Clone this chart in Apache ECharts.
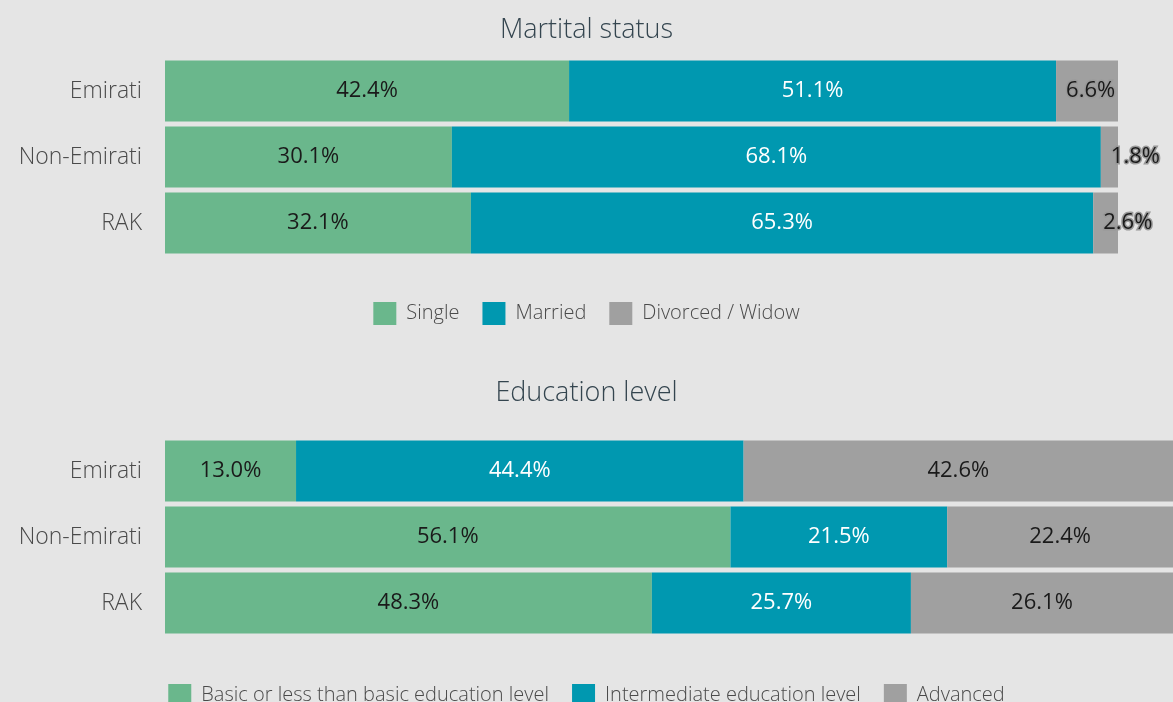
<html>
<head>
<script src="https://cdn.jsdelivr.net/npm/echarts@6/dist/echarts.min.js"></script>
</head>
<body style="margin:0;background:#e5e5e5;">
	<div id="main" style="height:702px;width:1173px;"></div>

	<script type="text/javascript">
		// 数据
		var groups = [ 'Emirati', 'Non-Emirati', 'RAK' ];
		var maritalNames = [ 'Single', 'Married', 'Divorced / Widow' ];
		var single = [ 42.4, 30.1, 32.1 ];
		var married = [ 51.1, 68.1, 65.3 ];
		var divorced = [ 6.6, 1.8, 2.6 ];
		var eduNames = [ 'Basic or less than basic education level',
				'Intermediate education level', 'Advanced' ];
		var basic = [ 13.0, 56.1, 48.3 ];
		var intermediate = [ 44.4, 21.5, 25.7 ];
		var advanced = [ 42.6, 22.4, 26.1 ];

		var colors = [ '#6ab78c', '#0098b0', '#a0a0a0' ];
		var font = '"Open Sans", sans-serif';
		var weight = 300;

		function pct(p) {
			return p.value.toFixed(1) + '%';
		}
		function barSeries(name, data, idx, color, labelColor, extra) {
			var s = {
				name : name,
				type : 'bar',
				stack : 's' + idx,
				xAxisIndex : idx,
				yAxisIndex : idx,
				barCategoryGap : '7.6%',
				itemStyle : {
					color : color
				},
				label : {
					show : true,
					position : 'inside',
					formatter : pct,
					color : labelColor,
					fontSize : 22,
					fontWeight : 400,
					fontFamily : font
				},
				data : data
			};
			if (extra) {
				for ( var k in extra)
					s.label[k] = extra[k];
			}
			return s;
		}
		function yAxis(idx) {
			return {
				type : 'category',
				gridIndex : idx,
				data : groups,
				inverse : true,
				axisLine : {
					show : false
				},
				axisTick : {
					show : false
				},
				axisLabel : {
					margin : 23,
					fontSize : 23,
					fontWeight : weight,
					color : '#4a4a4a',
					fontFamily : font
				}
			};
		}
		function xAxis(idx) {
			return {
				type : 'value',
				gridIndex : idx,
				min : 0,
				max : 100,
				show : false
			};
		}
		var legendText = {
			fontSize : 20,
			fontWeight : weight,
			color : '#4a4a4a',
			fontFamily : font,
			padding : [ 0, 0, 0, 5 ]
		};
		var titleText = {
			fontSize : 27,
			fontWeight : weight,
			color : '#34454f',
			fontFamily : font
		};

		var myChart = echarts.init(document.getElementById('main'));
		var option = {
			backgroundColor : '#e5e5e5',
			animation : false,
			title : [ {
				text : 'Martital status',
				left : 'center',
				top : 12,
				textStyle : titleText
			}, {
				text : 'Education level',
				left : 'center',
				top : 375,
				textStyle : titleText
			} ],
			legend : [ {
				data : maritalNames,
				left : 'center',
				top : 297,
				itemWidth : 23,
				itemHeight : 23,
				itemGap : 23,
				icon : 'rect',
				textStyle : legendText
			}, {
				data : eduNames,
				left : 'center',
				top : 679,
				itemWidth : 23,
				itemHeight : 23,
				itemGap : 23,
				icon : 'rect',
				textStyle : legendText
			} ],
			grid : [ {
				left : 165,
				right : 55,
				top : 58,
				height : 198
			}, {
				left : 165,
				right : 0,
				top : 438,
				height : 198
			} ],
			xAxis : [ xAxis(0), xAxis(1) ],
			yAxis : [ yAxis(0), yAxis(1) ],
			series : [
					barSeries(maritalNames[0], single, 0, colors[0], '#1a1a1a'),
					barSeries(maritalNames[1], married, 0, colors[1], '#fff'),
					barSeries(maritalNames[2], divorced, 0, colors[2], '#1a1a1a', {
						position : 'insideLeft',
						distance : 10,
						textBorderColor : '#999',
						textBorderWidth : 3
					}),
					barSeries(eduNames[0], basic, 1, colors[0], '#1a1a1a'),
					barSeries(eduNames[1], intermediate, 1, colors[1], '#fff'),
					barSeries(eduNames[2], advanced, 1, colors[2], '#1a1a1a') ]
		};
		myChart.setOption(option);
	</script>
</body>
</html>
